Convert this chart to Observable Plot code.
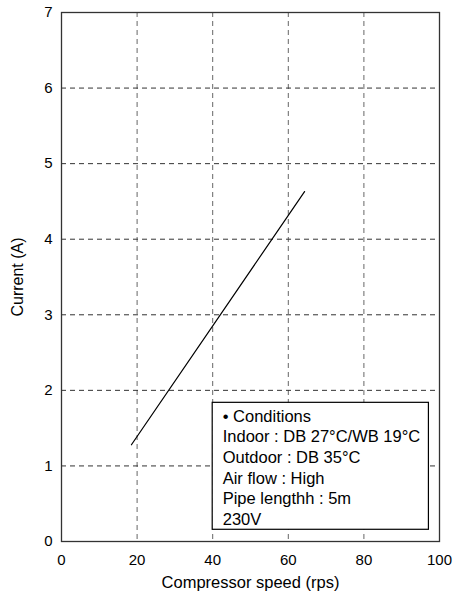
<!DOCTYPE html>
<html>
<head>
<meta charset="utf-8">
<script src="https://cdn.jsdelivr.net/npm/d3@7"></script>
<script src="https://cdn.jsdelivr.net/npm/@observablehq/plot@0.6"></script>
<style>
  html, body { margin: 0; padding: 0; background: white; }
</style>
</head>
<body>
<div id="chart"></div>
<script>
// Data
const compressorSpeed = [18.5, 64.3];   // rps
const currentA = [1.28, 4.63];          // A
const xTicks = [0, 20, 40, 60, 80, 100];
const yTicks = [0, 1, 2, 3, 4, 5, 6, 7];
const conditions = [
  "• Conditions",
  "Indoor : DB 27°C/WB 19°C",
  "Outdoor : DB 35°C",
  "Air flow : High",
  "Pipe lengthh : 5m",
  "230V"
];
// legend box extent in data units
const boxX = [40, 97.2];
const boxY = [0.155, 1.835];

const lineData = compressorSpeed.map((s, i) => ({speed: s, current: currentA[i]}));

const chart = Plot.plot({
  width: 453,
  height: 599,
  marginLeft: 61,
  marginRight: 14,
  marginTop: 12,
  marginBottom: 58,
  style: {fontFamily: "'Liberation Sans', Arial, Helvetica, sans-serif", fontSize: "15px", background: "white", color: "black"},
  x: {domain: [0, 100]},
  y: {domain: [0, 7]},
  marks: [
    Plot.gridX(xTicks, {stroke: "#666", strokeOpacity: 1, strokeDasharray: "5,4"}),
    Plot.gridY(yTicks, {stroke: "#333", strokeOpacity: 1, strokeDasharray: "5,4"}),
    Plot.rect([{x1: boxX[0], x2: boxX[1], y1: boxY[0], y2: boxY[1]}], {x1: "x1", x2: "x2", y1: "y1", y2: "y2", fill: "white", stroke: "black", strokeWidth: 1.2}),
    Plot.text([{x: boxX[0], y: boxY[1], t: conditions.join("\n")}], {x: "x", y: "y", text: "t", textAnchor: "start", lineAnchor: "top", lineHeight: 1.245, dx: 10, dy: 4.5, fontSize: 16.5, fill: "black"}),
    Plot.line(lineData, {x: "speed", y: "current", stroke: "black", strokeWidth: 1.2}),
    Plot.frame({stroke: "#333", strokeWidth: 1.3}),
    Plot.axisX(xTicks, {tickSize: 0, tickPadding: 13, tickFormat: d => String(d), label: null, fontSize: 15}),
    Plot.axisY(yTicks, {tickSize: 0, tickPadding: 9, tickFormat: d => String(d), label: null, fontSize: 15}),
    Plot.axisX({label: "Compressor speed (rps)", labelAnchor: "center", labelOffset: 46, labelArrow: "none", ticks: [], tickSize: 0, fontSize: 16.5}),
    Plot.axisY({label: "Current (A)", labelAnchor: "center", labelOffset: 50, labelArrow: "none", ticks: [], tickSize: 0, fontSize: 16})
  ]
});
document.getElementById("chart").appendChild(chart);
</script>
</body>
</html>
